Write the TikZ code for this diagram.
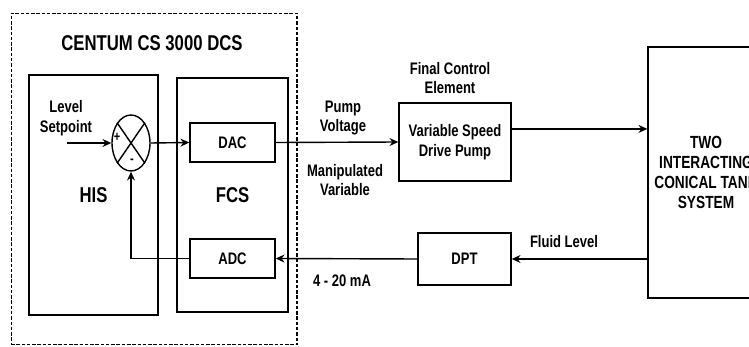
\documentclass[tikz,border=0pt]{standalone}
\usepackage{fontspec}
\setmainfont{Liberation Sans}[FakeStretch=0.78]
\usetikzlibrary{arrows.meta,shapes.geometric}

\begin{document}
\begin{tikzpicture}[x=0.02cm, y=-0.02cm,
    txt/.style={font=\fontsize{9.5}{11.3}\selectfont\bfseries, align=center, inner sep=0pt},
    blk/.style={draw, line width=0.8pt, txt},
    head/.style={font=\fontsize{12.2}{14}\selectfont\bfseries, inner sep=0pt},
    arr/.style={line width=0.8pt, -{Stealth[length=5pt,width=4.5pt]}}]
        \useasboundingbox (0,0) rectangle (749,347);
        \clip (0,0) rectangle (749,347);

        \node[draw, dash pattern=on 2pt off 1pt, line width=0.6pt, minimum width=5.72cm, minimum height=6.64cm] (1) at (154,179) {};
        \node[head] (2) at (152,43) {CENTUM CS 3000 DCS};
        \node[blk, head, minimum width=2.58cm, minimum height=4.8cm] (3) at (93.5,195) {HIS};
        \node[blk, head, minimum width=2.22cm, minimum height=4.68cm] (4) at (232.5,195) {FCS};
        \node[draw, ellipse, line width=0.8pt, minimum width=0.76cm, minimum height=1.12cm] (5) at (131,143) {};
        \node[blk, minimum width=1.7cm, minimum height=0.78cm] (6) at (232.5,142.5) {DAC};
        \node[blk, minimum width=1.7cm, minimum height=0.78cm] (7) at (232.5,258.5) {ADC};
        \node[blk, minimum width=2.24cm, minimum height=1.56cm] (8) at (455,142) {Variable Speed\\Drive Pump};
        \node[blk, minimum width=1.86cm, minimum height=1.04cm] (9) at (464.5,259) {DPT};
        \node[blk, font=\fontsize{10}{11.5}\selectfont\bfseries, minimum width=2.32cm, minimum height=5.02cm] (10) at (706,172.5) {TWO\\INTERACTING\\CONICAL TANK\\SYSTEM};

        \node[txt] (11) at (66,118) {Level\\Setpoint};
        \node[txt] (12) at (343,118) {Pump\\Voltage};
        \node[txt] (13) at (345,180) {Manipulated\\Variable};
        \node[txt] (14) at (450,78) {Final Control\\Element};
        \node[txt] (15) at (564,242) {Fluid Level};
        \node[txt] (16) at (342,281) {4 - 20 mA};
        \node[txt, font=\fontsize{8}{9}\selectfont\bfseries] (17) at (117,137) {+};
        \node[txt, font=\fontsize{8}{9}\selectfont\bfseries] (18) at (132,161) {-};
        \coordinate (19) at (67,143);

        \draw[line width=0.8pt] (5.north west) -- (5.south east);
        \draw[line width=0.8pt] (5.north east) -- (5.south west);

        \draw[arr] (19) -- (5.west);
        \draw[arr] (5.east) -- (6.west);
        \draw[arr] (6.east) -- (8.west);
        \draw[arr] (8.13) -- (8.13 -| 10.west);
        \draw[arr] (10.west |- 9.east) -- (9.east);
        \draw[arr] (9.west) -- (7.east);
        \draw[arr] (7.west) -| (5.south);
      \end{tikzpicture}
\end{document}
